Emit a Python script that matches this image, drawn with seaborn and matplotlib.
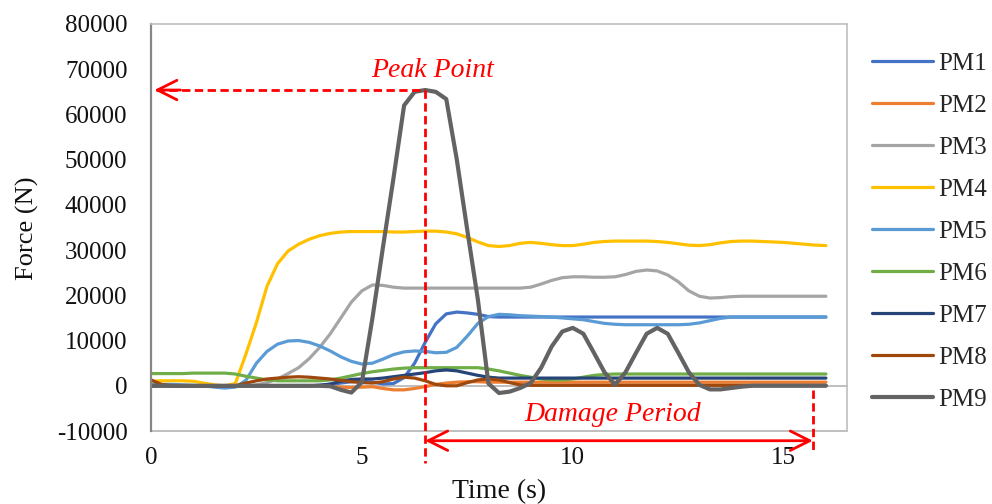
import numpy as np
import pandas as pd
import matplotlib
matplotlib.use("Agg")
import matplotlib.pyplot as plt
import seaborn as sns

# ---------------- data (0.25 s sampling) ----------------
TIME = [i * 0.25 for i in range(65)]  # 0 .. 16 s

PM1 = [0, 0, 0, 0, 0, 0, 0, 0,
       0, 0, 0, 0, 0, 0, 0, 0,
       100, 300, 600, 900, 1000, 800, 400, 500,
       1800, 5000, 9600, 13700, 15900, 16300, 16100, 15800,
       15300, 15200, 15200, 15200, 15200, 15200, 15200, 15200,
       15200, 15200, 15200, 15200, 15200, 15200, 15200, 15200,
       15200, 15200, 15200, 15200, 15200, 15200, 15200, 15200,
       15200, 15200, 15200, 15200, 15200, 15200, 15200, 15200,
       15200]
PM2 = [200, 100, 0, 0, 0, 0, 0, 0,
       0, 0, 0, 0, 0, 0, 0, 0,
       0, -100, -300, -400, -300, -200, -600, -900,
       -900, -600, -200, 300, 600, 800, 900, 900,
       800, 800, 800, 800, 800, 800, 800, 800,
       800, 800, 800, 800, 800, 800, 800, 800,
       800, 800, 800, 800, 800, 800, 800, 800,
       800, 800, 800, 800, 800, 800, 800, 800,
       800]
PM3 = [0, 0, 0, 0, 0, 0, 0, 0,
       0, 0, 200, 700, 1500, 2700, 4000, 6000,
       8500, 11500, 15000, 18500, 21000, 22300, 22200, 21800,
       21600, 21600, 21600, 21600, 21600, 21600, 21600, 21600,
       21600, 21600, 21600, 21600, 21800, 22500, 23300, 23900,
       24100, 24100, 24000, 24000, 24100, 24600, 25300, 25600,
       25400, 24500, 23000, 21000, 19800, 19400, 19500, 19700,
       19800, 19800, 19800, 19800, 19800, 19800, 19800, 19800,
       19800]
PM4 = [1000, 1100, 1100, 1100, 1000, 600, 200, 0,
       500, 7000, 14000, 22000, 27000, 29800, 31300, 32400,
       33200, 33700, 34000, 34100, 34100, 34100, 34100, 34000,
       34000, 34100, 34200, 34200, 34000, 33600, 32800, 31800,
       31000, 30800, 31000, 31500, 31700, 31500, 31200, 31000,
       31000, 31300, 31700, 31900, 32000, 32000, 32000, 32000,
       31900, 31700, 31400, 31100, 31000, 31200, 31600, 31900,
       32000, 32000, 31900, 31800, 31700, 31500, 31300, 31100,
       31000]
PM5 = [300, 300, 300, 200, 100, 0, -300, -500,
       -300, 1200, 5000, 7600, 9200, 9900, 10000, 9600,
       8800, 7700, 6400, 5400, 4800, 5000, 5900, 6900,
       7500, 7700, 7600, 7300, 7400, 8500, 11000, 13800,
       15300, 15800, 15700, 15500, 15400, 15300, 15200, 15000,
       14800, 14600, 14200, 13800, 13600, 13500, 13500, 13500,
       13500, 13500, 13500, 13600, 13900, 14400, 14900, 15200,
       15200, 15200, 15200, 15200, 15200, 15200, 15200, 15200,
       15200]
PM6 = [2700, 2700, 2700, 2700, 2800, 2800, 2800, 2800,
       2600, 2100, 1700, 1300, 1100, 1100, 1100, 1100,
       1100, 1300, 1700, 2200, 2700, 3100, 3400, 3700,
       3900, 4000, 4000, 4000, 4000, 4000, 4000, 4000,
       3700, 3300, 2800, 2300, 1900, 1500, 1300, 1300,
       1500, 1900, 2300, 2500, 2600, 2600, 2600, 2600,
       2600, 2600, 2600, 2600, 2600, 2600, 2600, 2600,
       2600, 2600, 2600, 2600, 2600, 2600, 2600, 2600,
       2600]
PM7 = [0, 0, 0, 0, 0, 0, 0, 0,
       0, 0, 0, 0, 0, 0, 0, 0,
       100, 400, 1000, 1400, 1500, 1500, 1700, 2000,
       2300, 2600, 2900, 3300, 3500, 3300, 2800, 2300,
       1900, 1700, 1700, 1700, 1700, 1700, 1700, 1700,
       1700, 1700, 1700, 1700, 1700, 1700, 1700, 1700,
       1700, 1700, 1700, 1700, 1700, 1700, 1700, 1700,
       1700, 1700, 1700, 1700, 1700, 1700, 1700, 1700,
       1700]
PM8 = [1300, 300, 0, 0, 0, 0, 0, 0,
       0, 600, 1100, 1500, 1700, 1900, 2000, 1900,
       1700, 1500, 1200, 900, 700, 600, 900, 1500,
       1900, 1700, 1100, 300, 0, 0, 700, 1300,
       1500, 1300, 700, 200, 100, 100, 100, 100,
       100, 100, 100, 100, 100, 100, 100, 100,
       100, 100, 100, 100, 100, 100, 100, 100,
       100, 100, 100, 100, 100, 100, 100, 100,
       100]
PM9 = [0, 0, 0, 0, 0, 0, 0, 0,
       0, 0, 0, 0, 0, 0, 0, 0,
       0, -100, -900, -1500, 800, 15000, 30700, 46000,
       62000, 65000, 65400, 65000, 63400, 50000, 34300, 19000,
       500, -1600, -1300, -500, 600, 4000, 8700, 12000,
       12800, 11500, 7300, 3000, 200, 3000, 7300, 11500,
       12800, 11500, 7300, 3000, 200, -800, -800, -500,
       -200, 0, 0, 0, 0, 0, 0, 0,
       0]

SERIES = ["PM1", "PM2", "PM3", "PM4", "PM5", "PM6", "PM7", "PM8", "PM9"]
VALUES = [PM1, PM2, PM3, PM4, PM5, PM6, PM7, PM8, PM9]
COLORS = ["#4472C4", "#ED7D31", "#A5A5A5", "#FFC000", "#5B9BD5",
          "#70AD47", "#264478", "#9E480E", "#636363"]

Y_TICKS = [-10000, 0, 10000, 20000, 30000, 40000, 50000, 60000, 70000, 80000]
X_TICKS = [0, 5, 10, 15]

# annotation anchors (data units)
PEAK_T, PEAK_F = 6.5, 65400
END_T = 15.69

# ---------------- figure ----------------
sns.set_theme(style="white")
plt.rcParams['font.family'] = ['Liberation Serif', 'DejaVu Serif']
FS = 18

fig = plt.figure(figsize=(9.92, 5.04), dpi=100)
ax = fig.add_axes([151 / 992, 1 - 431 / 504, 696 / 992, 407 / 504])

for name, vals, col in zip(SERIES, VALUES, COLORS):
    df = pd.DataFrame({"Time": TIME, "Force": vals})
    sns.lineplot(data=df, x="Time", y="Force", color=col,
                 linewidth=3.0 if name == "PM9" else 2.3,
                 label=name, ax=ax, sort=False, estimator=None,
                 solid_capstyle="round", solid_joinstyle="round")

# spines (set position before ticks, it resets tick objects)
for s in ["top", "right"]:
    ax.spines[s].set_color("#BFBFBF")
    ax.spines[s].set_linewidth(1.2)
ax.spines["left"].set_color("#868686")
ax.spines["left"].set_linewidth(1.6)
ax.spines["bottom"].set_position(("data", 0))
ax.spines["bottom"].set_color("#BFBFBF")
ax.spines["bottom"].set_linewidth(1.4)
ax.spines["bottom"].set_zorder(0.5)
ax.axhline(-10000, color="#BFBFBF", lw=1.4, clip_on=False, zorder=0.5)

ax.set_xlim(0, 16.5)
ax.set_ylim(-10000, 80000)
ax.set_yticks(Y_TICKS)
ax.set_xticks(X_TICKS)
ax.set_yticklabels([str(v) for v in Y_TICKS])
ax.set_xticklabels([str(v) for v in X_TICKS])
ax.set_xlabel("")
ax.set_ylabel("")

ax.tick_params(axis="y", length=0, pad=17, labelcolor="#111111", labelsize=FS)
ax.tick_params(axis="x", direction="out", length=4, width=1.2,
               color="#BFBFBF", pad=40, labelcolor="#111111", labelsize=FS)

fig.text(27 / 992, 1 - 228 / 504, "Force (N)", rotation=90,
         ha="center", va="center", fontsize=FS + 1, color="#111111")
fig.text(499 / 992, 1 - 492 / 504, "Time (s)",
         ha="center", va="center", fontsize=FS + 2, color="#111111")

# legend
handles, labels = ax.get_legend_handles_labels()
ax.legend(handles, labels, loc="upper left",
          bbox_to_anchor=(872 / 992, 1 - 52 / 504), bbox_transform=fig.transFigure,
          frameon=False, fontsize=FS, handlelength=2.45, handletextpad=0.2,
          labelspacing=0.78, borderpad=0, borderaxespad=0)

# annotations
RED = "#FF0000"
dash = dict(color=RED, lw=2.0, linestyle=(0, (3, 1.6)), clip_on=False, zorder=6)
ax.plot([0.12, PEAK_T], [PEAK_F, PEAK_F], **dash)
ax.annotate("", xy=(0.08, PEAK_F), xytext=(0.7, PEAK_F),
            arrowprops=dict(arrowstyle="->,head_length=0.7,head_width=0.35",
                            color=RED, lw=2.0, mutation_scale=20,
                            shrinkA=0, shrinkB=0), zorder=6)
ax.plot([PEAK_T, PEAK_T], [PEAK_F, -17000], **dash)
ax.plot([END_T, END_T], [-900, -14800], **dash)
ax.annotate("", xy=(PEAK_T, -12150), xytext=(END_T, -12150),
            arrowprops=dict(arrowstyle="<->,head_length=0.7,head_width=0.35",
                            color=RED, lw=2.0, mutation_scale=20,
                            shrinkA=0, shrinkB=0),
            annotation_clip=False, zorder=6)
ax.text(6.68, 69800, "Peak Point", color=RED, fontstyle="italic",
        fontsize=FS + 2, ha="center", va="center")
ax.text(10.95, -6300, "Damage Period", color=RED, fontstyle="italic",
        fontsize=FS + 2, ha="center", va="center")

fig.savefig("out.png", dpi=100)
